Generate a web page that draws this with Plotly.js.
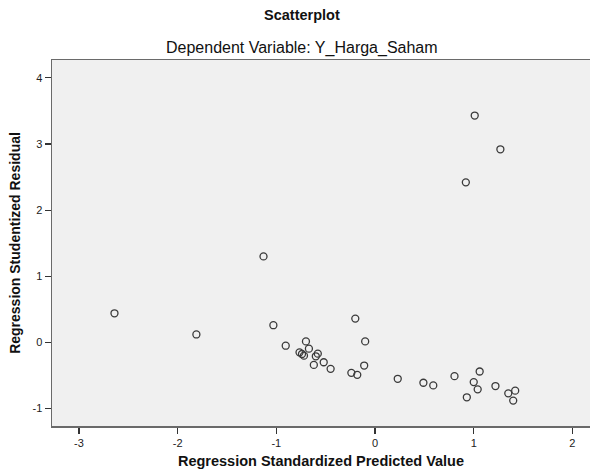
<!DOCTYPE html>
<html>
<head>
<meta charset="utf-8">
<script src="https://cdn.plot.ly/plotly-3.0.1.min.js"></script>
<style>html,body{margin:0;padding:0;background:#fff;}#chart{width:590px;height:472px;}</style>
</head>
<body>
<div id="chart"></div>
<script>
// Regression Standardized Predicted Value
const predicted = [-2.64, -1.81, -1.13, -1.03, -0.905, -0.70, -0.67, -0.765, -0.74, -0.72,
  -0.58, -0.60, -0.62, -0.52, -0.45, -0.20, -0.10, -0.11, -0.24, -0.18,
  0.23, 0.49, 0.59, 0.805, 1.01, 1.27, 0.92, 1.06, 1.00, 1.04,
  0.93, 1.22, 1.35, 1.42, 1.40];
// Regression Studentized Residual
const residual = [0.44, 0.12, 1.30, 0.26, -0.05, 0.015, -0.095, -0.15, -0.175, -0.20,
  -0.17, -0.21, -0.34, -0.30, -0.40, 0.36, 0.015, -0.35, -0.46, -0.49,
  -0.55, -0.61, -0.65, -0.51, 3.43, 2.92, 2.42, -0.44, -0.60, -0.71,
  -0.83, -0.66, -0.77, -0.73, -0.88];
const xTicks = [-3, -2, -1, 0, 1, 2];
const yTicks = [-1, 0, 1, 2, 3, 4];
const chartTitle = "Scatterplot";
const chartSubtitle = "Dependent Variable: Y_Harga_Saham";
const xTitle = "Regression Standardized Predicted Value";
const yTitle = "Regression Studentized Residual";

const font = "Liberation Sans, Arial, sans-serif";
const trace = {
  x: predicted, y: residual, type: "scatter", mode: "markers",
  marker: {symbol: "circle-open", size: 7, color: "#3a3a3a", line: {width: 1.3, color: "#3a3a3a"}},
  hoverinfo: "x+y"
};
const layout = {
  width: 590, height: 472,
  margin: {l: 52, r: 0, t: 60, b: 46},
  paper_bgcolor: "#ffffff", plot_bgcolor: "#f0f0f0",
  showlegend: false,
  font: {family: font, size: 11, color: "#222"},
  xaxis: {
    range: [-3.273, 2.178], tickvals: xTicks, ticktext: xTicks.map(String),
    showgrid: false, zeroline: false, showline: true, linecolor: "#6a6a6a", linewidth: 1.5,
    mirror: true, ticks: "outside", ticklen: 6, tickwidth: 1.2, tickcolor: "#333",
    tickfont: {family: font, size: 11, color: "#222"},
    title: {text: xTitle, font: {family: font, size: 14.5, color: "#111", weight: "bold"}, standoff: 8}
  },
  yaxis: {
    range: [-1.264, 4.27], tickvals: yTicks, ticktext: yTicks.map(String),
    showgrid: false, zeroline: false, showline: true, linecolor: "#6a6a6a", linewidth: 1.5,
    ticks: "outside", ticklen: 6, tickwidth: 1.2, tickcolor: "#333",
    tickfont: {family: font, size: 11, color: "#222"},
    title: {text: yTitle, font: {family: font, size: 14, color: "#111", weight: "bold"}, standoff: 8}
  },
  annotations: [
    {text: "<b>" + chartTitle + "</b>", xref: "paper", yref: "paper", x: 0.4647, y: 1, yshift: 45,
     xanchor: "center", yanchor: "middle", showarrow: false, font: {family: font, size: 14.5, color: "#111"}},
    {text: chartSubtitle, xref: "paper", yref: "paper", x: 0.4647, y: 1, yshift: 12,
     xanchor: "center", yanchor: "middle", showarrow: false, font: {family: font, size: 16, color: "#111"}}
  ]
};
Plotly.newPlot("chart", [trace], layout, {displayModeBar: false, staticPlot: true});
</script>
</body>
</html>
